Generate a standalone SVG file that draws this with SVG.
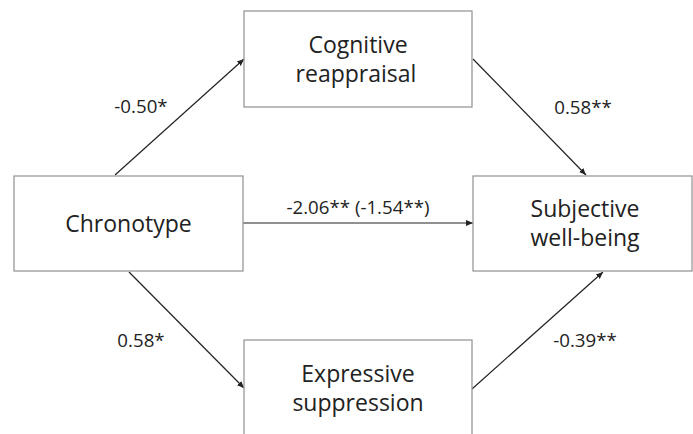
<svg xmlns="http://www.w3.org/2000/svg" width="693" height="434" viewBox="0 0 693 434">
<style>
.box{fill:#fff;stroke:#999;stroke-width:1.3}
.t{font-family:"Open Sans","Noto Sans",sans-serif;font-size:23px;fill:#222;text-anchor:middle}
.l{font-family:"Open Sans","Noto Sans",sans-serif;font-size:18.7px;fill:#222;text-anchor:middle}
.c{stroke:#222;stroke-width:1.2;fill:none;marker-end:url(#ah)}
</style>
<defs>
<marker id="ah" markerUnits="userSpaceOnUse" markerWidth="8" markerHeight="8" viewBox="0 0 8 8" refX="7" refY="4" orient="auto">
<path d="M0,1 L7,4 L0,7 Z" fill="#222"/>
</marker>
</defs>
<rect width="693" height="434" fill="#fff"/>
<g id="connectors">
<line class="c" x1="115" y1="175" x2="244" y2="59"/>
<line class="c" x1="473" y1="59" x2="586" y2="175"/>
<line class="c" x1="243" y1="223" x2="473" y2="223"/>
<line class="c" x1="129" y1="272" x2="244" y2="388"/>
<line class="c" x1="472" y1="389" x2="603" y2="272"/>
<text class="l" x="141" y="113">-0.50*</text>
<text class="l" x="583" y="114">0.58**</text>
<text class="l" x="358" y="214">-2.06** (-1.54**)</text>
<text class="l" x="141" y="347">0.58*</text>
<text class="l" x="585" y="347">-0.39**</text>
</g>
<g id="cognitive">
<rect class="box" x="244" y="11" width="228" height="96"/>
<text class="t" x="358" y="53">Cognitive</text>
<text class="t" x="356" y="82">reappraisal</text>
</g>
<g id="chronotype">
<rect class="box" x="14" y="176" width="229" height="95"/>
<text class="t" x="128.5" y="232">Chronotype</text>
</g>
<g id="wellbeing">
<rect class="box" x="473" y="176" width="219" height="95"/>
<text class="t" x="585" y="216.5">Subjective</text>
<text class="t" x="585" y="245.5">well-being</text>
</g>
<g id="expressive">
<rect class="box" x="244" y="340" width="228" height="100"/>
<text class="t" x="358" y="381.5">Expressive</text>
<text class="t" x="358" y="410.5">suppression</text>
</g>
</svg>
